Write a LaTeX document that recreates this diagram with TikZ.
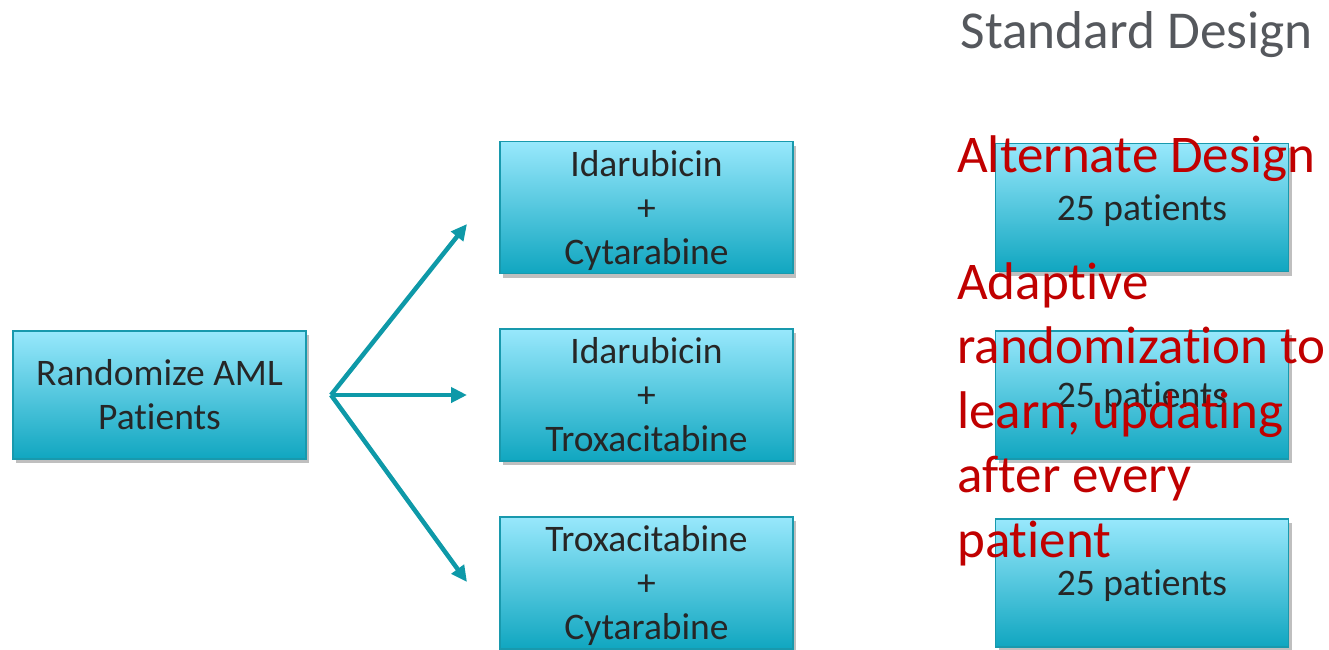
\documentclass[tikz,border=0pt]{standalone}
\usepackage{fontspec}
\setmainfont{Carlito}[Ligatures=CommonOff]
\usetikzlibrary{shadows,arrows.meta}
\definecolor{boxtop}{HTML}{98E8FC}
\definecolor{boxbot}{HTML}{10A6C0}
\definecolor{boxedge}{HTML}{1899AD}
\definecolor{arrowteal}{HTML}{0E99A8}
\definecolor{boxtext}{HTML}{262626}
\definecolor{headgray}{HTML}{55585D}
\definecolor{alertred}{HTML}{C00000}
% box text, set a little below the geometric centre of the box
\newcommand{\armtext}[1]{\raisebox{-4pt}[\height][\depth]{\begin{tabular}{@{}c@{}}#1\end{tabular}}}
\tikzset{
  armbox/.style={draw=boxedge, line width=1.5pt, top color=boxtop, bottom color=boxbot,
    minimum width=293pt, minimum height=128pt, inner sep=0pt,
    text=boxtext, font=\fontsize{37.5}{44}\selectfont,
    drop shadow={shadow xshift=3pt, shadow yshift=-4pt, opacity=0.25, fill=black}},
  branch/.style={draw=arrowteal, line width=4.5pt, -{Triangle[length=16pt,width=15pt]}},
  redtext/.style={text=alertred, font=\fontsize{53}{64.5}\selectfont, inner sep=0pt}
}
\begin{document}
\begin{tikzpicture}[x=1pt,y=-1pt]
\useasboundingbox (0,0) rectangle (1329,649);

% heading
\node[text=headgray, font=\fontsize{53.3}{64}\selectfont, inner sep=0pt, anchor=base east]
  (std) at (1313,48) {Standard Design};

% start box
\node[armbox] (start) at (159.5,395) {\armtext{Randomize AML\\Patients}};

% treatment arms
\node[armbox] (armA) at (646.5,207.5) {\armtext{Idarubicin\\+\\Cytarabine}};
\node[armbox] (armB) at (646.5,395) {\armtext{Idarubicin\\+\\Troxacitabine}};
\node[armbox] (armC) at (646.5,583) {\armtext{Troxacitabine\\+\\Cytarabine}};

% patient counts
\node[armbox] (nA) at (1142,207.5) {\armtext{25 patients}};
\node[armbox] (nB) at (1142,395) {\armtext{25 patients}};
\node[armbox] (nC) at (1142,583) {\armtext{25 patients}};

% randomization fork
\coordinate (fork) at (331,395);
\coordinate (tipA) at (467,224);
\coordinate (tipB) at (467,395);
\coordinate (tipC) at (467,582);
\draw[branch] (fork) -- (tipA);
\draw[branch] (fork) -- (tipB);
\draw[branch] (fork) -- (tipC);

% alternate design overlay
\node[redtext, anchor=base west] (alt) at (957,172) {Alternate Design};
\node[redtext, anchor=north west, align=left] (adapt) at (957,262)
  {Adaptive\\randomization to\\learn, updating\\after every\\patient};
\end{tikzpicture}
\end{document}
